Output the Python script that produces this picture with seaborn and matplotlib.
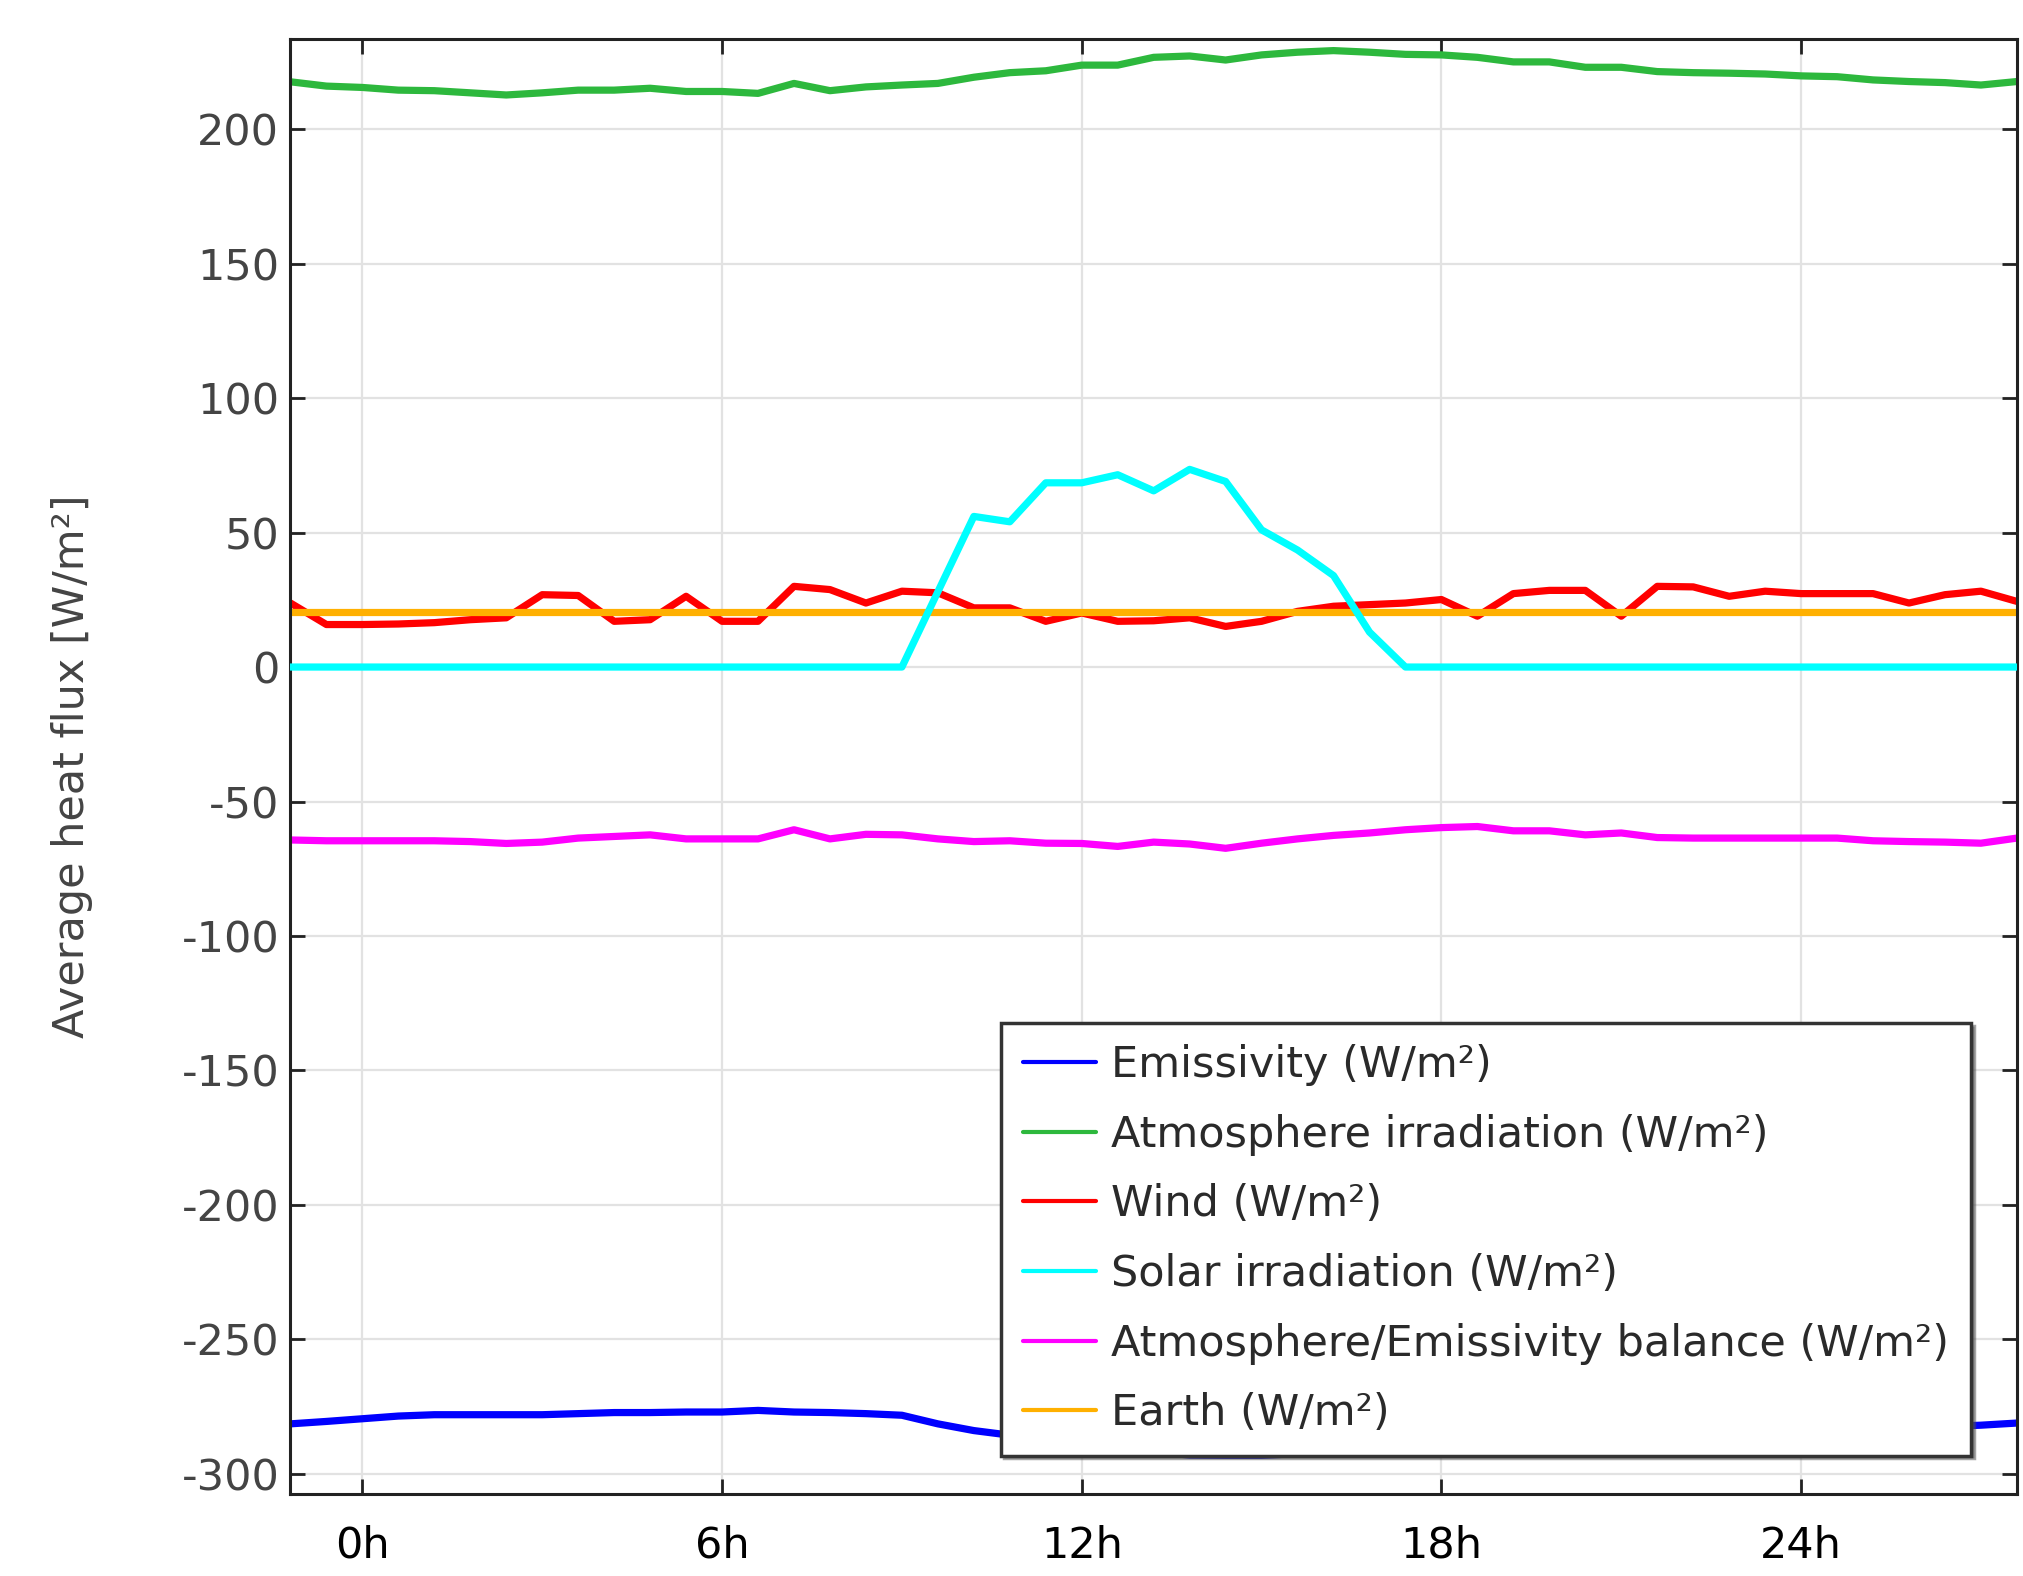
import matplotlib
matplotlib.use("Agg")
import matplotlib.pyplot as plt
import numpy as np
import pandas as pd
import seaborn as sns

# ---------------- data ----------------
hours = [-1.2, -0.6, 0.0, 0.6, 1.2, 1.8, 2.4, 3.0, 3.6, 4.2, 4.8, 5.4, 6.0, 6.6,
         7.2, 7.8, 8.4, 9.0, 9.6, 10.2, 10.8, 11.4, 12.0, 12.6, 13.2, 13.8, 14.4,
         15.0, 15.6, 16.2, 16.8, 17.4, 18.0, 18.6, 19.2, 19.8, 20.4, 21.0, 21.6,
         22.2, 22.8, 23.4, 24.0, 24.6, 25.2, 25.8, 26.4, 27.0, 27.6]

emissivity = [-281.4, -280.5, -279.5, -278.5, -278.0, -278.0, -278.0, -278.0, -277.6, -277.2,
              -277.2, -277.0, -277.0, -276.4, -277.0, -277.2, -277.6, -278.2, -281.4, -283.9,
              -285.6, -287.2, -289.4, -290.5, -291.8, -293.0, -293.1, -293.1, -292.5, -291.8,
              -290.3, -288.3, -287.3, -286.0, -285.9, -285.9, -285.4, -284.7, -284.8, -284.6,
              -284.4, -284.1, -283.4, -283.1, -282.9, -282.6, -282.4, -281.9, -281.1]

atmosphere = [217.6, 216.0, 215.5, 214.5, 214.3, 213.5, 212.7, 213.5, 214.5, 214.5,
              215.2, 214.0, 214.0, 213.3, 217.0, 214.3, 215.7, 216.4, 217.0, 219.3,
              221.0, 221.7, 223.8, 223.8, 226.7, 227.2, 225.7, 227.6, 228.6, 229.2,
              228.6, 227.8, 227.6, 226.7, 225.0, 225.0, 223.0, 223.0, 221.4, 221.0,
              220.8, 220.5, 219.8, 219.5, 218.3, 217.7, 217.3, 216.4, 217.7]

wind = [23.8, 15.8, 15.8, 16.0, 16.5, 17.6, 18.3, 26.9, 26.6, 17.0,
        17.6, 26.3, 17.0, 17.0, 30.0, 28.8, 23.8, 28.2, 27.6, 22.0,
        22.0, 17.0, 20.1, 17.0, 17.2, 18.3, 15.1, 17.0, 20.7, 22.6,
        23.2, 23.8, 25.1, 18.9, 27.3, 28.5, 28.5, 18.9, 30.0, 29.8,
        26.3, 28.2, 27.3, 27.3, 27.3, 23.8, 26.9, 28.2, 24.4]

solar = [0, 0, 0, 0, 0, 0, 0, 0, 0, 0,
         0, 0, 0, 0, 0, 0, 0, 0, 28.0, 56.0,
         54.0, 68.5, 68.5, 71.5, 65.5, 73.5, 69.0, 51.0, 43.5, 34.0,
         13.0, 0, 0, 0, 0, 0, 0, 0, 0, 0,
         0, 0, 0, 0, 0, 0, 0, 0, 0]

balance = [-64.3, -64.6, -64.6, -64.6, -64.6, -64.9, -65.6, -65.1, -63.6, -63.0,
           -62.4, -63.9, -63.9, -63.9, -60.5, -63.9, -62.2, -62.4, -63.9, -64.9,
           -64.6, -65.5, -65.6, -66.7, -65.1, -65.8, -67.4, -65.5, -63.9, -62.6,
           -61.7, -60.5, -59.7, -59.3, -60.9, -60.9, -62.4, -61.7, -63.4, -63.6,
           -63.6, -63.6, -63.6, -63.6, -64.6, -64.9, -65.1, -65.5, -63.6]

earth = [20.5, 20.5, 20.5, 20.5, 20.5, 20.5, 20.5, 20.5, 20.5, 20.5,
         20.5, 20.5, 20.5, 20.5, 20.5, 20.5, 20.5, 20.5, 20.5, 20.5,
         20.5, 20.5, 20.5, 20.5, 20.5, 20.5, 20.5, 20.5, 20.5, 20.5,
         20.5, 20.5, 20.5, 20.5, 20.5, 20.5, 20.5, 20.5, 20.5, 20.5,
         20.5, 20.5, 20.5, 20.5, 20.5, 20.5, 20.5, 20.5, 20.5]

series_names = ["Emissivity (W/m²)", "Atmosphere irradiation (W/m²)", "Wind (W/m²)",
                "Solar irradiation (W/m²)", "Atmosphere/Emissivity balance (W/m²)",
                "Earth (W/m²)"]
series_colors = ["#0000ff", "#2db83d", "#ff0000", "#00ffff", "#ff00ff", "#ffb000"]

x_tick_values = [0, 6, 12, 18, 24]
x_tick_labels = ["0h", "6h", "12h", "18h", "24h"]
y_tick_values = [200, 150, 100, 50, 0, -50, -100, -150, -200, -250, -300]
y_label = "Average heat flux [W/m²]"

# ---------------- build ----------------
all_series = [emissivity, atmosphere, wind, solar, balance, earth]
df = pd.concat(
    [pd.DataFrame({"t": hours, "flux": vals, "series": name})
     for name, vals in zip(series_names, all_series)],
    ignore_index=True)

sns.set_style("ticks")
plt.rcParams["font.family"] = ["DejaVu Sans"]
plt.rcParams["axes.unicode_minus"] = False

fig = plt.figure(figsize=(20.24, 15.76), dpi=100)
ax = fig.add_axes([0.1435, 0.052, 0.853, 0.9234])

sns.lineplot(data=df, x="t", y="flux", hue="series", hue_order=series_names,
             palette=dict(zip(series_names, series_colors)), linewidth=5.2,
             estimator=None, sort=False, ax=ax)

# solar line drawn above the others
ax.lines[3].set_zorder(3)

ax.set_xlim(-1.2, 27.6)
ax.set_ylim(-307.5, 233.6)
ax.set_xticks(x_tick_values)
ax.set_xticklabels(x_tick_labels)
ax.set_yticks(y_tick_values)
ax.set_xlabel("")
ax.set_ylabel(y_label, fontsize=31, color="#444444")
ax.yaxis.set_label_coords(-0.1144, 0.5)

ax.grid(True, color="#e2e2e2", linewidth=1.6)
ax.set_axisbelow(True)
for sp in ax.spines.values():
    sp.set_visible(True)
    sp.set_linewidth(2.2)
    sp.set_color("#222222")

ax.tick_params(direction="in", length=11, width=2, top=True, right=True,
               labeltop=False, labelright=False, color="#222222")
ax.tick_params(axis="x", labelsize=31, labelcolor="black", pad=22)
ax.tick_params(axis="y", labelsize=31, labelcolor="#444444", pad=8)

# legend
old = ax.get_legend()
if old is not None:
    old.remove()
handles = ax.lines[:6]
leg = ax.legend(handles, series_names, loc="upper left",
                bbox_to_anchor=(0.4948, 0.351), bbox_transform=fig.transFigure,
                borderaxespad=0, fontsize=31, handlelength=1.7, handletextpad=0.35,
                labelspacing=0.64, borderpad=0.5, frameon=True, fancybox=False,
                shadow=True, edgecolor="#333333", framealpha=1)
leg.get_frame().set_linewidth(2.5)
for t in leg.get_texts():
    t.set_color("#2a2a2a")
for l in leg.get_lines():
    l.set_linewidth(3)

fig.savefig("out.png", dpi=100)
